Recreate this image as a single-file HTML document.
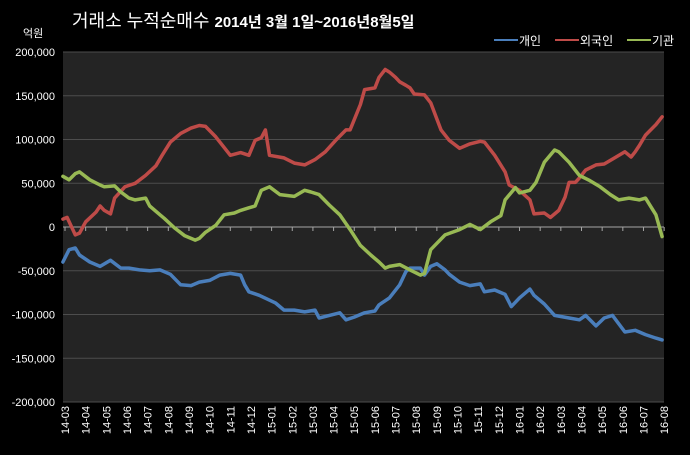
<!DOCTYPE html>
<html><head><meta charset="utf-8"><style>
body{margin:0;background:#000;width:690px;height:450px;overflow:hidden;font-family:"Liberation Sans","Noto Sans CJK KR",sans-serif}
svg text{fill:#fff}
</style></head><body>
<svg id="chart" width="690" height="450" xmlns="http://www.w3.org/2000/svg">
<rect x="0" y="0" width="690" height="450" fill="#000"/>
<rect x="63" y="52" width="601" height="350" fill="#242424"/>
<text x="72" y="27" font-size="18" font-family="Liberation Sans,Noto Sans CJK KR,sans-serif">거래소 누적순매수 <tspan font-weight="bold" font-size="15">2014년 3월 1일~2016년8월5일</tspan></text>
<text x="23" y="37" font-size="11">억원</text>
<g font-size="12">
<line x1="494" y1="40" x2="518" y2="40" stroke="#4a7ebb" stroke-width="2"/>
<text x="519" y="45">개인</text>
<line x1="555" y1="40" x2="579" y2="40" stroke="#be4b48" stroke-width="2"/>
<text x="580" y="45">외국인</text>
<line x1="627" y1="40" x2="651" y2="40" stroke="#98b954" stroke-width="2"/>
<text x="652" y="45">기관</text>
</g>
<g id="grid"></g><g id="axes"></g><g id="series"></g>
</svg>
<script>
const yTicks=[200000,150000,100000,50000,0,-50000,-100000,-150000,-200000];
const xLabels=["14-03","14-04","14-05","14-06","14-07","14-08","14-09","14-10","14-11","14-12","15-01","15-02","15-03","15-04","15-05","15-06","15-07","15-08","15-09","15-10","15-11","15-12","16-01","16-02","16-03","16-04","16-05","16-06","16-07","16-08"];
// time in months since 2014-03, values in thousands of 억원
const indivT=[-0.1,0.2,0.5,0.7,1.2,1.7,2.2,2.7,3.1,3.6,4.1,4.6,5.1,5.6,6.1,6.5,7.0,7.5,8.0,8.5,8.7,8.9,9.4,10.2,10.6,11.1,11.6,12.1,12.3,12.8,13.3,13.6,14.0,14.5,15.0,15.2,15.7,16.2,16.5,16.7,17.2,17.4,17.7,18.0,18.4,18.6,19.1,19.6,20.1,20.3,20.8,21.3,21.6,22.0,22.5,22.7,23.2,23.7,24.4,24.9,25.2,25.7,26.1,26.5,27.1,27.6,28.1,28.6,28.9];
const indivV=[-40,-26,-24,-32,-40,-45,-38,-47,-47,-49,-50,-49,-54,-66,-67,-63,-61,-55,-53,-55,-66,-74,-78,-87,-95,-95,-97,-95,-104,-101,-98,-106,-103,-98,-96,-89,-81,-66,-51,-47,-47,-55,-45,-42,-49,-54,-63,-67,-65,-74,-72,-77,-91,-81,-71,-78,-88,-101,-104,-106,-101,-113,-104,-101,-120,-118,-123,-127,-129];
const foreignT=[-0.1,0.1,0.5,0.7,1.0,1.5,1.7,1.9,2.2,2.4,2.9,3.4,3.9,4.4,4.7,5.1,5.6,6.1,6.5,6.8,7.3,7.7,8.0,8.5,8.9,9.2,9.5,9.7,9.9,10.6,11.1,11.6,12.1,12.6,13.1,13.6,13.8,14.3,14.5,15.0,15.2,15.5,15.7,16.0,16.2,16.5,16.7,16.9,17.4,17.7,18.2,18.6,19.1,19.6,20.1,20.3,20.8,21.3,21.5,22.0,22.5,22.7,23.2,23.5,23.9,24.2,24.4,24.7,24.9,25.2,25.7,26.1,26.6,27.1,27.4,27.6,27.8,28.1,28.6,28.9];
const foreignV=[9,11,-9,-7,6,17,24,19,15,33,46,50,59,70,82,97,107,113,116,115,103,91,82,85,82,99,102,111,82,79,73,71,77,86,99,111,111,140,157,159,171,180,177,171,166,162,159,152,151,142,111,99,90,95,98,97,82,63,48,42,31,15,16,11,19,34,51,51,56,65,71,72,79,86,80,86,93,105,117,126];
const instT=[-0.1,0.2,0.5,0.7,1.2,1.7,1.9,2.4,2.7,3.1,3.4,3.9,4.1,4.6,4.8,5.3,5.8,6.3,6.5,6.8,7.3,7.7,8.2,8.5,8.9,9.2,9.5,9.9,10.4,11.1,11.6,11.9,12.3,12.8,13.3,13.8,14.3,14.8,15.2,15.5,15.7,16.2,16.7,17.2,17.4,17.7,17.9,18.4,19.1,19.6,20.1,20.6,21.1,21.3,21.8,22.0,22.5,22.8,23.2,23.7,23.9,24.4,24.9,25.4,25.9,26.4,26.8,27.3,27.8,28.1,28.6,28.9];
const instV=[58,54,61,63,54,48,46,47,40,33,31,33,24,14,10,-1,-10,-15,-13,-6,2,14,16,19,22,24,42,46,37,35,42,40,37,25,14,-3,-21,-32,-40,-47,-45,-43,-49,-55,-53,-26,-21,-9,-3,3,-3,6,13,31,45,39,42,51,74,88,86,74,59,53,46,37,31,33,31,33,14,-11];

const NS="http://www.w3.org/2000/svg";
const X0=65,DX=20.66,YTOP=52,YBOT=402,VMAX=200000,VMIN=-200000;
function xScale(t){return X0+t*DX;}
function yScale(v){return YTOP+(VMAX-v)/(VMAX-VMIN)*(YBOT-YTOP);}
function mk(tag,attrs,parent){const e=document.createElementNS(NS,tag);for(const k in attrs)e.setAttribute(k,attrs[k]);parent.appendChild(e);return e;}
const grid=document.getElementById('grid'),axes=document.getElementById('axes'),series=document.getElementById('series');
yTicks.forEach(v=>{
  const y=yScale(v);
  if(v!==0){const l=mk('line',{x1:63,x2:664,y1:y,y2:y,stroke:'#4d4d4d','stroke-width':1},grid);
  
  }
  const t=mk('text',{x:55,y:y+4,'text-anchor':'end','font-size':11},axes);
  t.textContent=v.toLocaleString('en-US');
  
  
});
const zy=yScale(0);
const zl=mk('line',{x1:63,x2:664,y1:zy,y2:zy,stroke:'#a6a6a6','stroke-width':1},axes);


xLabels.forEach((lab,i)=>{
  const x=xScale(i);
  const tk=mk('line',{x1:x,x2:x,y1:zy,y2:zy+4,stroke:'#a6a6a6','stroke-width':1},axes);
  
  
  const t=mk('text',{x:0,y:0,'text-anchor':'end','font-size':11,transform:`translate(${x+4},406) rotate(-90)`},axes);
  t.textContent=lab;
  
  
});
function draw(ts,vs,color,name){
  const n=Math.min(ts.length,vs.length);let d='';
  for(let i=0;i<n;i++){d+=(i?'L':'M')+xScale(ts[i]).toFixed(1)+','+yScale(vs[i]*1000).toFixed(1);}
  const p=mk('path',{d:d,fill:'none',stroke:color,'stroke-width':3.5,'stroke-linejoin':'round','stroke-linecap':'round'},series);
  
  
}
draw(indivT,indivV,'#4a7ebb','series-individual');
draw(foreignT,foreignV,'#be4b48','series-foreign');
draw(instT,instV,'#98b954','series-institution');
</script>
</body></html>
